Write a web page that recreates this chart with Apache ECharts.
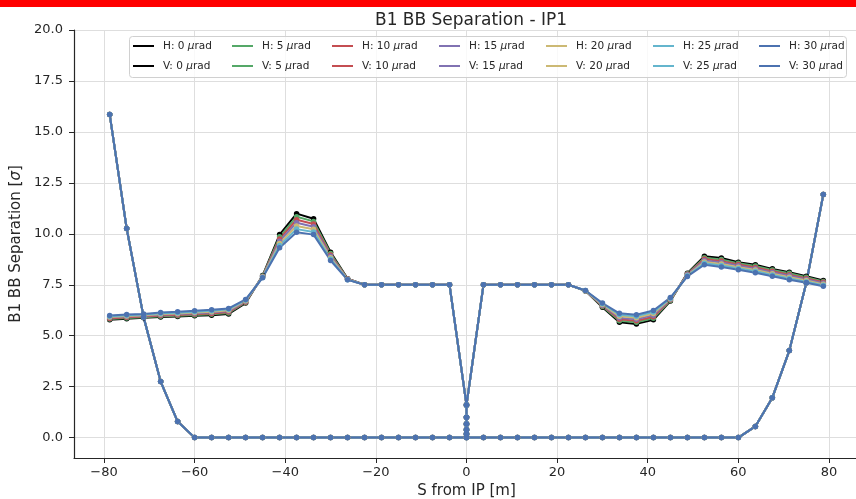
<!DOCTYPE html>
<html>
<head>
<meta charset="utf-8">
<script src="https://cdn.jsdelivr.net/npm/echarts@6/dist/echarts.min.js"></script>
<style>
html,body{margin:0;padding:0;background:#fff;}
#c{width:856px;height:499px;}
</style>
</head>
<body>
<div id="c"></div>
<script>
// ---- data ----
const angles = [0, 5, 10, 15, 20, 25, 30];
const colors = ['#000000', '#55A868', '#C44E52', '#8172B2', '#CCB974', '#64B5CD', '#4C72B0'];

const sLeft = [-78.75, -75, -71.25, -67.5, -63.75, -60, -56.25, -52.5, -48.75, -45, -41.25, -37.5, -33.75, -30, -26.25];
const sMidLeft = [-22.5, -18.75, -15, -11.25, -7.5, -3.75];
const sIP = [0, 0, 0, 0, 0, 0, 0, 0, 0, 0, 0];
const sMidRight = [3.75, 7.5, 11.25, 15, 18.75, 22.5];
const sRight = [26.25, 30, 33.75, 37.5, 41.25, 45, 48.75, 52.5, 56.25, 60, 63.75, 67.5, 71.25, 75, 78.75];

const midVals = [7.5, 7.5, 7.5, 7.5, 7.5, 7.5];
const ipVals = [1.6, 1.0, 0.67, 0.39, 0.18, 0, 0.18, 0.39, 0.67, 1.0, 1.6];

// H separation, left side (s = -78.75 .. -26.25)
const hLeft0  = [5.78, 5.83, 5.88, 5.92, 5.94, 5.98, 6.00, 6.07, 6.60, 7.95, 9.96, 10.99, 10.74, 9.10, 7.80];
const hLeft5  = [5.82, 5.87, 5.91, 5.96, 5.98, 6.02, 6.05, 6.12, 6.63, 7.93, 9.85, 10.84, 10.61, 9.03, 7.79];
const hLeft10 = [5.85, 5.90, 5.94, 5.99, 6.02, 6.06, 6.09, 6.16, 6.66, 7.91, 9.75, 10.69, 10.48, 8.96, 7.78];
const hLeft15 = [5.89, 5.94, 5.98, 6.03, 6.06, 6.10, 6.14, 6.21, 6.69, 7.90, 9.64, 10.54, 10.35, 8.90, 7.77];
const hLeft20 = [5.92, 5.97, 6.01, 6.07, 6.09, 6.14, 6.18, 6.25, 6.72, 7.88, 9.53, 10.38, 10.22, 8.83, 7.76];
const hLeft25 = [5.96, 6.01, 6.04, 6.10, 6.13, 6.18, 6.23, 6.30, 6.75, 7.86, 9.43, 10.23, 10.09, 8.76, 7.75];
const hLeft30 = [5.99, 6.04, 6.07, 6.14, 6.17, 6.22, 6.27, 6.34, 6.78, 7.84, 9.32, 10.08, 9.96, 8.69, 7.74];

// H separation, right side (s = 26.25 .. 78.75)
const hRight0  = [7.20, 6.40, 5.66, 5.58, 5.78, 6.70, 8.07, 8.90, 8.81, 8.61, 8.48, 8.28, 8.12, 7.92, 7.71];
const hRight5  = [7.20, 6.43, 5.73, 5.66, 5.86, 6.73, 8.04, 8.83, 8.74, 8.55, 8.42, 8.22, 8.06, 7.87, 7.66];
const hRight10 = [7.21, 6.47, 5.81, 5.73, 5.93, 6.76, 8.02, 8.76, 8.66, 8.49, 8.35, 8.16, 7.99, 7.81, 7.62];
const hRight15 = [7.21, 6.50, 5.88, 5.81, 6.01, 6.79, 7.99, 8.69, 8.59, 8.43, 8.29, 8.10, 7.94, 7.76, 7.57];
const hRight20 = [7.21, 6.53, 5.95, 5.88, 6.09, 6.81, 7.96, 8.62, 8.52, 8.36, 8.22, 8.04, 7.87, 7.71, 7.52];
const hRight25 = [7.22, 6.57, 6.03, 5.96, 6.16, 6.84, 7.94, 8.55, 8.44, 8.30, 8.16, 7.98, 7.81, 7.65, 7.48];
const hRight30 = [7.22, 6.60, 6.10, 6.03, 6.24, 6.87, 7.91, 8.48, 8.37, 8.24, 8.09, 7.92, 7.75, 7.60, 7.43];

// V separation (same for all angles), s = -78.75 .. 78.75 step 3.75
const vSep = [15.86, 10.26, 5.90, 2.75, 0.79, 0, 0, 0, 0, 0, 0, 0, 0, 0, 0,
              0, 0, 0, 0, 0, 0, 0, 0, 0, 0, 0, 0, 0,
              0, 0, 0, 0, 0, 0, 0, 0, 0, 0, 0.55, 1.96, 4.27, 7.60, 11.93];

const yTicks = [0, 2.5, 5, 7.5, 10, 12.5, 15, 17.5, 20];
const xTicks = [-80, -60, -40, -20, 0, 20, 40, 60, 80];

// ---- build ----
const hLeft = [hLeft0, hLeft5, hLeft10, hLeft15, hLeft20, hLeft25, hLeft30];
const hRight = [hRight0, hRight5, hRight10, hRight15, hRight20, hRight25, hRight30];
const sFull = [].concat(sLeft, sMidLeft, [0], sMidRight, sRight);

function zip(xs, ys) { return xs.map((x, i) => [x, ys[i]]); }

const series = [];
angles.forEach((a, k) => {
  const hData = [].concat(zip(sLeft, hLeft[k]), zip(sMidLeft, midVals), zip(sIP, ipVals),
                          zip(sMidRight, midVals), zip(sRight, hRight[k]));
  const common = {
    type: 'line', symbol: 'circle', symbolSize: 5.5, showAllSymbol: true,
    lineStyle: { width: 2, color: colors[k] }, itemStyle: { color: colors[k] },
    emphasis: { disabled: true }, animation: false, clip: true
  };
  series.push(Object.assign({ name: 'H: ' + a + ' μrad', data: hData }, common));
  series.push(Object.assign({ name: 'V: ' + a + ' μrad', data: zip(sFull, vSep) }, common));
});

const legendX = [133, 232, 332, 439, 546, 653, 759];
const legends = angles.map((a, k) => ({
  data: ['H: ' + a + ' μrad', 'V: ' + a + ' μrad'],
  orient: 'vertical', left: legendX[k], top: 39, itemGap: 6,
  itemWidth: 21, itemHeight: 2, icon: 'rect', padding: 0,
  selectedMode: false, z: 5,
  formatter: n => n.replace('μ', '{i|μ}'),
  textStyle: {
    fontFamily: 'DejaVu Sans', fontSize: 10.5, color: '#262626', lineHeight: 14,
    padding: [0, 0, 0, 4],
    rich: { i: { fontStyle: 'italic', fontFamily: 'DejaVu Sans', fontSize: 10.5, color: '#262626', lineHeight: 14 } }
  }
}));

const fmtX = v => v < 0 ? '\u2212' + (-v) : String(v);

const option = {
  backgroundColor: '#fff',
  animation: false,
  title: {
    text: 'B1 BB Separation - IP1', left: 466, top: 7, textAlign: 'center',
    textStyle: { fontFamily: 'DejaVu Sans', fontSize: 17, fontWeight: 'normal', color: '#262626' }
  },
  grid: { left: 74, right: -3, top: 30, bottom: 41, show: false, outerBoundsMode: 'none', containLabel: false },
  legend: legends,
  xAxis: {
    type: 'value', min: -86.625, max: 86.625,
    name: 'S from IP [m]', nameLocation: 'middle', nameGap: 26,
    nameTextStyle: { fontFamily: 'DejaVu Sans', fontSize: 15, color: '#262626' },
    axisLine: { show: true, onZero: false, lineStyle: { color: '#262626', width: 1.2 } },
    axisTick: { show: true, length: 5, customValues: xTicks, lineStyle: { color: '#262626' } },
    axisLabel: { customValues: xTicks, formatter: fmtX, margin: 8, fontFamily: 'DejaVu Sans', fontSize: 13, color: '#262626' },
    splitLine: { show: true, lineStyle: { color: '#dedede', width: 1 } }
  },
  yAxis: {
    type: 'value', min: -1, max: 20,
    name: 'B1 BB Separation [{i|σ}]', nameLocation: 'middle', nameGap: 45,
    nameTextStyle: { fontFamily: 'DejaVu Sans', fontSize: 15, color: '#262626',
      rich: { i: { fontStyle: 'italic', fontFamily: 'DejaVu Sans', fontSize: 15, color: '#262626' } } },
    axisLine: { show: true, onZero: false, lineStyle: { color: '#262626', width: 1.2 } },
    axisTick: { show: true, length: 5, customValues: yTicks, lineStyle: { color: '#262626' } },
    axisLabel: { customValues: yTicks, formatter: v => v.toFixed(1), margin: 11, fontFamily: 'DejaVu Sans', fontSize: 13, color: '#262626' },
    splitLine: { show: true, lineStyle: { color: '#dedede', width: 1 } }
  },
  graphic: [
    { type: 'rect', left: 0, top: 0, shape: { width: 856, height: 7 }, style: { fill: '#ff0000' }, z: 10 },
    { type: 'rect', left: 129, top: 36, shape: { width: 717, height: 41, r: 3 },
      style: { fill: 'rgba(255,255,255,0.8)', stroke: '#d0d0d0', lineWidth: 1 }, z: 3 }
  ],
  series: series
};

const chart = echarts.init(document.getElementById('c'), null, { renderer: 'canvas' });
chart.setOption(option);
</script>
</body>
</html>
